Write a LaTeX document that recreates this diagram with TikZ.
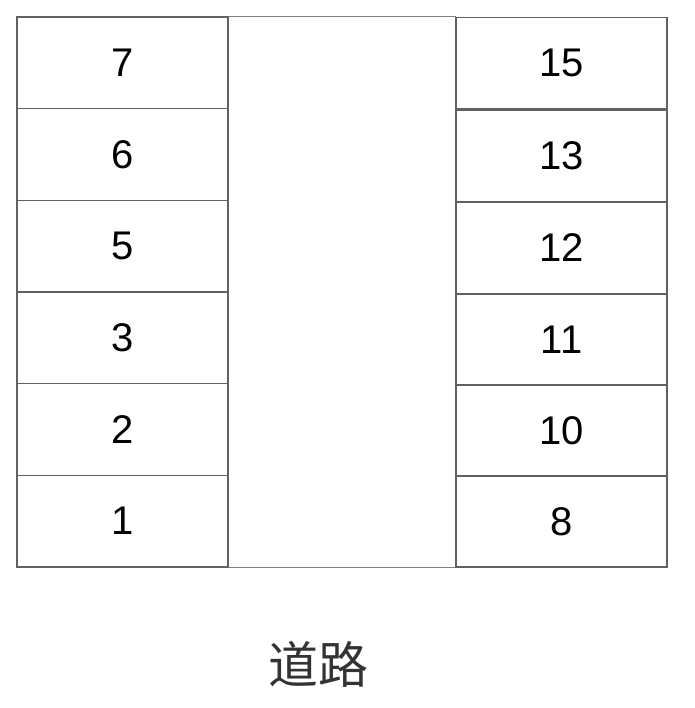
\documentclass[tikz,border=0pt]{standalone}
\usepackage{fontspec}
\setmainfont{Liberation Sans}
\newfontfamily\cjk{Noto Sans CJK SC}
\tikzset{
  slot/.style={draw=black!62, line width=1.6pt, minimum width=211pt, minimum height=91.7pt, inner sep=0pt, font=\fontsize{40}{40}\selectfont, text=black},
  road/.style={draw=black!50, line width=1pt}
}
\begin{document}
\begin{tikzpicture}[x=1pt,y=-1pt]
\useasboundingbox (0,0) rectangle (694,708);
% road
\coordinate (rtl) at (228,17);
\coordinate (rtr) at (456,17);
\coordinate (rbl) at (228,567);
\coordinate (rbr) at (456,567);
\draw[road] (rtl) -- (rtr);
\draw[road] (rbl) -- (rbr);
% left column
\node[slot] (l7) at (122.5,62.8) {7};
\node[slot] (l6) at (122.5,154.5) {6};
\node[slot] (l5) at (122.5,246.2) {5};
\node[slot] (l3) at (122.5,337.8) {3};
\node[slot] (l2) at (122.5,429.5) {2};
\node[slot] (l1) at (122.5,521.2) {1};
% right column
\node[slot] (r15) at (561.5,63.4) {15};
\node[slot] (r13) at (561.5,155.9) {13};
\node[slot] (r12) at (561.5,247.9) {12};
\node[slot] (r11) at (561.5,339.5) {11};
\node[slot] (r10) at (561.5,430.5) {10};
\node[slot, minimum height=91pt] (r8) at (561.5,521.5) {8};
% label
\node[font=\cjk\fontsize{50}{50}\selectfont, text=black!80] (lbl) at (318,664) {道路};
\end{tikzpicture}
\end{document}
